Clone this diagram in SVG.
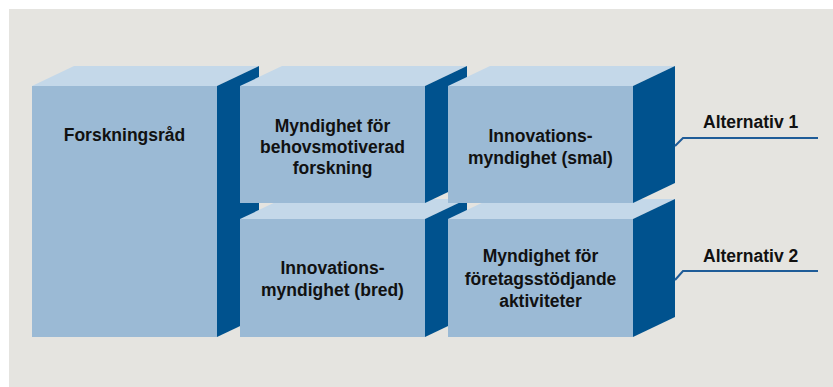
<svg xmlns="http://www.w3.org/2000/svg" width="833" height="387" viewBox="0 0 833 387">
<style>
.front{fill:#9bbad5}
.top{fill:#c4d8e9}
.side{fill:#00528e}
.lbl{font-family:"Liberation Sans",Arial,sans-serif;font-weight:bold;font-size:17.5px;fill:#111;text-anchor:middle}
.alt{font-family:"Liberation Sans",Arial,sans-serif;font-weight:bold;font-size:17.5px;fill:#111}
.conn{fill:none;stroke:#1f5c98;stroke-width:2}
</style>
<rect x="0" y="0" width="833" height="387" fill="#ffffff"/>
<rect x="9" y="9" width="824" height="378" fill="#e5e4e0"/>
<g id="forskningsrad">
<polygon class="top" points="32,86 217,86 259,66 74,66"/>
<polygon class="side" points="217,86 259,66 259,317 217,337"/>
<rect class="front" x="32" y="86" width="185" height="251"/>
<text class="lbl" x="124.5" y="141">Forskningsråd</text>
</g>
<g id="innovation-bred">
<polygon class="top" points="240,219 425,219 467,199 282,199"/>
<polygon class="side" points="425,219 467,199 467,317 425,337"/>
<rect class="front" x="240" y="219" width="185" height="118"/>
<text class="lbl" x="332.5" y="274">Innovations-</text>
<text class="lbl" x="332.5" y="296">myndighet (bred)</text>
</g>
<g id="foretagsstod">
<polygon class="top" points="448,219 633,219 675,199 490,199"/>
<polygon class="side" points="633,219 675,199 675,317 633,337"/>
<rect class="front" x="448" y="219" width="185" height="118"/>
<text class="lbl" x="540.5" y="262">Myndighet för</text>
<text class="lbl" x="540.5" y="285">företagsstödjande</text>
<text class="lbl" x="540.5" y="307">aktiviteter</text>
</g>
<g id="behovsmotiverad">
<polygon class="top" points="240,86 425,86 467,66 282,66"/>
<polygon class="side" points="425,86 467,66 467,183 425,203"/>
<rect class="front" x="240" y="86" width="185" height="117"/>
<text class="lbl" x="332.5" y="132">Myndighet för</text>
<text class="lbl" x="332.5" y="153">behovsmotiverad</text>
<text class="lbl" x="332.5" y="174">forskning</text>
</g>
<g id="innovation-smal">
<polygon class="top" points="448,86 633,86 675,66 490,66"/>
<polygon class="side" points="633,86 675,66 675,183 633,203"/>
<rect class="front" x="448" y="86" width="185" height="117"/>
<text class="lbl" x="540.5" y="142">Innovations-</text>
<text class="lbl" x="540.5" y="164">myndighet (smal)</text>
</g>
<g id="connectors">
<polyline class="conn" points="675,146 683,138 818,138"/>
<polyline class="conn" points="675,280 683,271 818,271"/>
</g>
<g id="alt1"><text class="alt" x="703" y="128">Alternativ 1</text></g>
<g id="alt2"><text class="alt" x="703" y="262">Alternativ 2</text></g>
</svg>
